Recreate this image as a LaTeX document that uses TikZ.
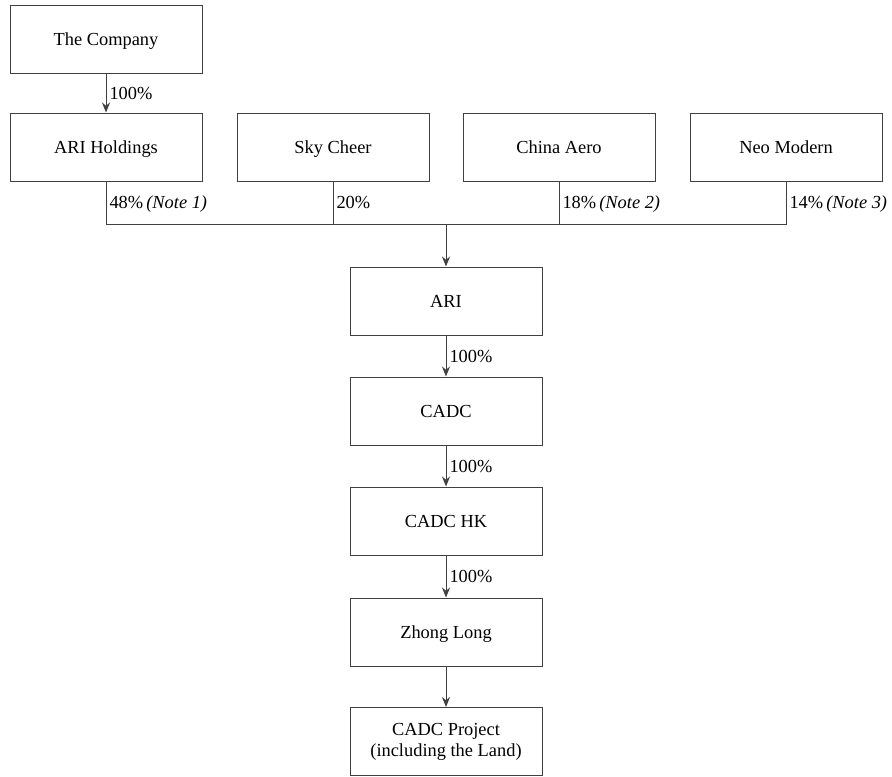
\documentclass[tikz,border=0pt]{standalone}
\usepackage{fontspec}
\setmainfont{Liberation Serif}
\usetikzlibrary{positioning,arrows.meta}
\newlength{\boxwidth}
\setlength{\boxwidth}{96pt}
\newlength{\boxheight}
\setlength{\boxheight}{34pt}

\begin{document}
\begin{tikzpicture}[x=0.5pt,y=-0.5pt]
  \tikzstyle{entity}=[
       draw=black!75,
       line width=0.5pt,
       minimum width=\boxwidth,
       minimum height=\boxheight,
       align=center,
       inner sep=1pt,
       text height=7.5pt,
       text depth=1.5pt,
       font=\fontsize{9.2}{10.5}\selectfont]
  \tikzstyle{owns}=[
       draw=black!75,
       line width=0.5pt]
  \tikzstyle{share}=[
       right,
       inner sep=1.5pt,
       text height=7.5pt,
       text depth=1.5pt,
       font=\fontsize{9.2}{10.5}\selectfont]
  \useasboundingbox (0,0) rectangle (892,776);

  \node[entity] (company)   at (106,39)  {The Company};
  \node[entity] (holdings)  at (106,147) {ARI Holdings};
  \node[entity] (skycheer)  at (333,147) {Sky Cheer};
  \node[entity] (chinaaero) at (559,147) {China Aero};
  \node[entity] (neomodern) at (786,147) {Neo Modern};
  \node[entity] (ari)       at (446,301) {ARI};
  \node[entity] (cadc)      at (446,411) {CADC};
  \node[entity] (cadchk)    at (446,521) {CADC HK};
  \node[entity] (zhonglong) at (446,632) {Zhong Long};
  \node[entity,text height=,text depth=] (project) at (446,741.5) {CADC Project\\(including the Land)};
  \coordinate (bus) at (446,224);

  \draw[owns,-{Stealth[length=5pt,width=4pt]}] (company) -- node[share] {100\%} (holdings);
  % shareholders of ARI
  \draw[owns] (holdings.south) |- node[share,pos=0.25] {48\%\,\textit{(Note 1)}} (bus);
  \draw[owns] (skycheer.south) -- node[share] {20\%} (skycheer.south |- bus);
  \draw[owns] (chinaaero.south) -- node[share] {18\%\,\textit{(Note 2)}} (chinaaero.south |- bus);
  \draw[owns] (neomodern.south) |- node[share,pos=0.25] {14\%\,\textit{(Note 3)}} (bus);
  \draw[owns,-{Stealth[length=5pt,width=4pt]}] (bus) -- (ari);

  \draw[owns,-{Stealth[length=5pt,width=4pt]}] (ari) -- node[share] {100\%} (cadc);
  \draw[owns,-{Stealth[length=5pt,width=4pt]}] (cadc) -- node[share] {100\%} (cadchk);
  \draw[owns,-{Stealth[length=5pt,width=4pt]}] (cadchk) -- node[share] {100\%} (zhonglong);
  \draw[owns,-{Stealth[length=5pt,width=4pt]}] (zhonglong) -- (project);
\end{tikzpicture}
\end{document}
